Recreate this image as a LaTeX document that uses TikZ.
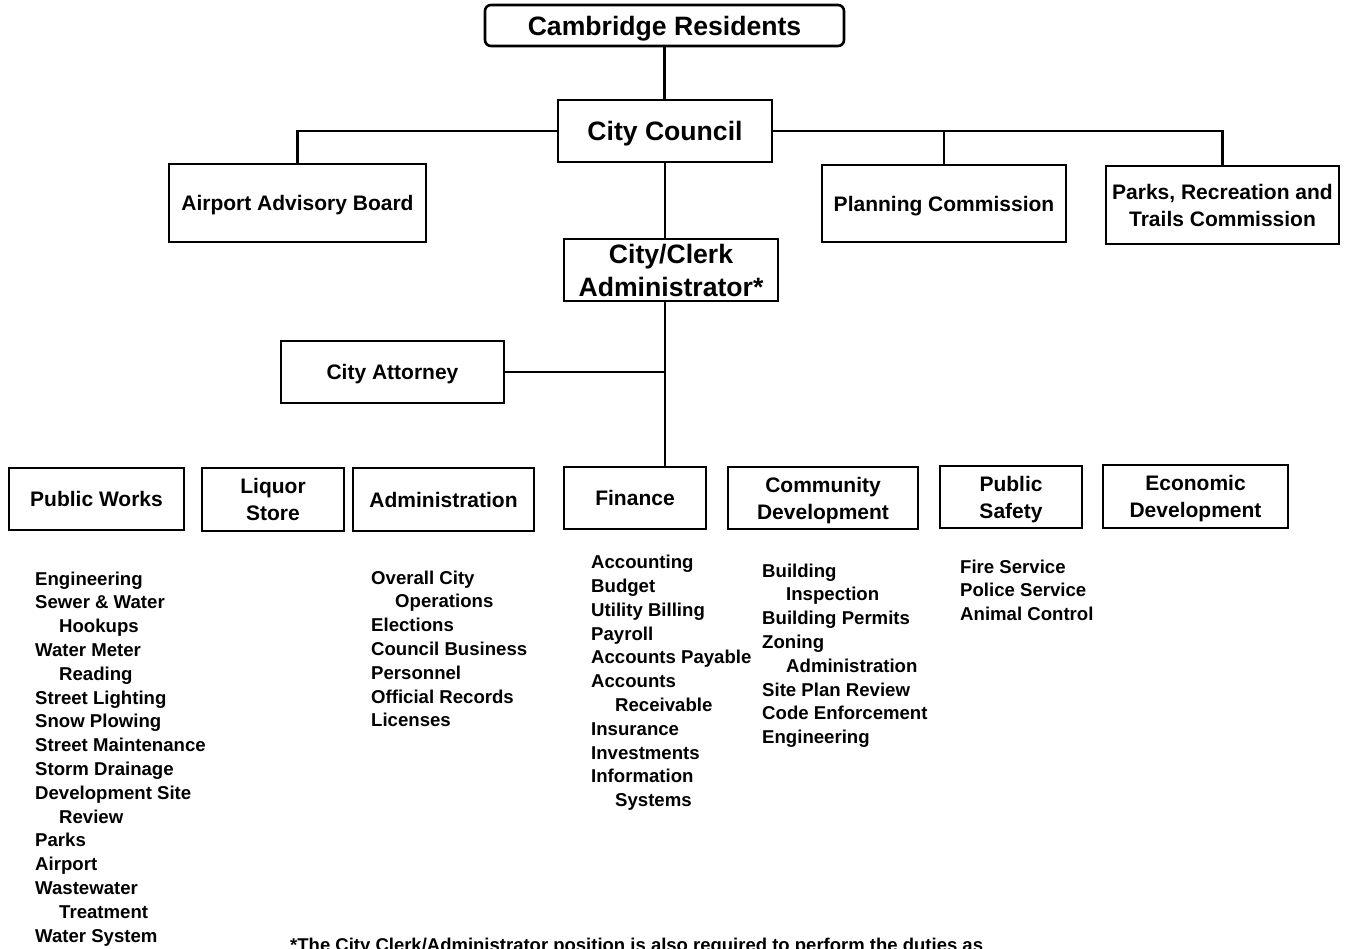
\documentclass[tikz,border=0pt]{standalone}
\usepackage{fontspec}
\setmainfont{Liberation Sans}
\begin{document}
\begin{tikzpicture}[x=1pt,y=-1pt,
  box/.style={draw,line width=2.6pt,inner sep=0pt,align=center,
    font=\fontsize{21}{27}\selectfont\bfseries},
  bigbox/.style={box,font=\fontsize{26.6}{33}\selectfont\bfseries},
  oneline/.style={text depth=0pt},
  link/.style={line width=2.8pt},
  duties/.style={anchor=north west,inner sep=0pt,align=left,
    font=\fontsize{18.6}{23.8}\selectfont\bfseries}]
\useasboundingbox (0,0) rectangle (1355,948);

% top of the hierarchy
\node[bigbox,oneline,rounded corners=6pt,minimum width=359pt,minimum height=41pt] (res) at (664.5,25.5) {Cambridge Residents};
\node[bigbox,oneline,minimum width=214pt,minimum height=62pt] (council) at (665,131) {City Council};

% boards and commissions
\node[box,oneline,minimum width=257pt,minimum height=78pt] (airport) at (297.5,203) {Airport Advisory Board};
\node[box,oneline,minimum width=244pt,minimum height=77pt] (planning) at (944,203.5) {Planning Commission};
\node[box,minimum width=233pt,minimum height=78pt] (parks) at (1222.5,205) {Parks, Recreation and\\Trails Commission};

% administration
\node[bigbox,minimum width=214pt,minimum height=62pt] (clerk) at (671,270) {City/Clerk\\Administrator*};
\node[box,oneline,minimum width=223pt,minimum height=62pt] (attorney) at (392.5,372) {City Attorney};

% departments
\node[box,oneline,minimum width=175pt,minimum height=62pt] (pw) at (96.5,499) {Public Works};
\node[box,minimum width=142pt,minimum height=63pt] (liquor) at (273,499.5) {Liquor\\Store};
\node[box,oneline,minimum width=181pt,minimum height=63pt] (admin) at (443.5,499.5) {Administration};
\node[box,oneline,minimum width=142pt,minimum height=62pt] (finance) at (635,498) {Finance};
\node[box,minimum width=190pt,minimum height=62pt] (comdev) at (823,498) {Community\\\smash{Development}};
\node[box,minimum width=142pt,minimum height=62pt] (safety) at (1011,497) {Public\\\smash{Safety}};
\node[box,minimum width=185pt,minimum height=63pt] (econ) at (1195.5,496.5) {Economic\\\smash{Development}};

% connectors
\draw[link] (res.south) -- (res.south |- council.north);
\draw[link] (council.west) -| (airport.north);
\draw[link] (council.east) -| (parks.north);
\draw[link] (planning.north) -- (planning.north |- council.east);
\draw[link] (council.south) -- (council.south |- clerk.north);
\draw[link] (clerk.south -| council.south) -- (finance.north -| council.south);
\draw[link] (attorney.east) -- (attorney.east -| council.south);

% duties of each department
\node[duties] (pwlist) at (35,571.5) {Engineering\\Sewer \& Water\\\hspace*{24pt}Hookups\\Water Meter\\\hspace*{24pt}Reading\\Street Lighting\\Snow Plowing\\Street Maintenance\\Storm Drainage\\Development Site\\\hspace*{24pt}Review\\Parks\\Airport\\Wastewater\\\hspace*{24pt}Treatment\\Water System};
\node[duties] (adminlist) at (371,570.5) {Overall City\\\hspace*{24pt}Operations\\Elections\\Council Business\\Personnel\\Official Records\\Licenses};
\node[duties] (finlist) at (591,555) {Accounting\\Budget\\Utility Billing\\Payroll\\Accounts Payable\\Accounts\\\hspace*{24pt}Receivable\\Insurance\\Investments\\Information\\\hspace*{24pt}Systems};
\node[duties] (cdlist) at (762,563.5) {Building\\\hspace*{24pt}Inspection\\Building Permits\\Zoning\\\hspace*{24pt}Administration\\Site Plan Review\\Code Enforcement\\Engineering};
\node[duties] (pslist) at (960,559.5) {Fire Service\\Police Service\\Animal Control};

% footnote, running on past the lower edge
\node[anchor=base west,inner sep=0pt,font=\fontsize{18.5}{22}\selectfont\bfseries] (note) at (290,951) {*The City Clerk/Administrator position is also required to perform the duties as};
\end{tikzpicture}
\end{document}
